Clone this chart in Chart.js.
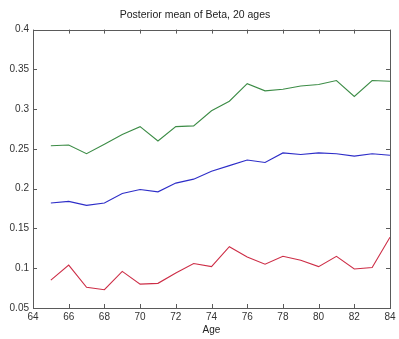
<!DOCTYPE html>
<html>
<head>
<meta charset="utf-8">
<script src="https://cdn.jsdelivr.net/npm/chart.js@4.4.1/dist/chart.umd.min.js"></script>
<style>
  html, body { margin: 0; padding: 0; background: #fff; }
  #wrap { width: 399px; height: 339px; }
</style>
</head>
<body>
<div id="wrap"><canvas id="myChart"></canvas></div>
<script>
const ctx = document.getElementById('myChart');

// ages 65..84
const ages = [65, 66, 67, 68, 69, 70, 71, 72, 73, 74, 75, 76, 77, 78, 79, 80, 81, 82, 83, 84];
const greenBeta = [0.254, 0.255, 0.244, 0.256, 0.268, 0.278, 0.260, 0.278, 0.279, 0.298,
                   0.310, 0.332, 0.323, 0.325, 0.329, 0.331, 0.336, 0.316, 0.336, 0.335];
const blueBeta = [0.182, 0.184, 0.179, 0.182, 0.194, 0.199, 0.196, 0.207, 0.212, 0.222,
                  0.229, 0.236, 0.233, 0.245, 0.243, 0.245, 0.244, 0.241, 0.244, 0.242];
const redBeta = [0.085, 0.104, 0.076, 0.073, 0.096, 0.080, 0.081, 0.094, 0.106, 0.102,
                 0.127, 0.114, 0.105, 0.115, 0.110, 0.102, 0.115, 0.099, 0.101, 0.139];
const xTicks = [64, 66, 68, 70, 72, 74, 76, 78, 80, 82, 84];
const yTicks = [0.05, 0.1, 0.15, 0.2, 0.25, 0.3, 0.35, 0.4];

const pts = (vals) => ages.map((a, i) => ({ x: a, y: vals[i] }));
const font = { family: 'Liberation Sans, Arial, sans-serif', size: 10 };
const axisColor = '#5a5a5a';

// matlab style box with inward ticks on all four sides
const boxTicks = {
  id: 'boxTicks',
  afterDraw(chart) {
    const c = chart.ctx;
    const a = chart.chartArea;
    const sx = chart.scales.x, sy = chart.scales.y;
    c.save();
    c.strokeStyle = axisColor;
    c.lineWidth = 1;
    c.beginPath();
    xTicks.forEach(v => {
      const px = Math.round(sx.getPixelForValue(v)) + 0.5;
      c.moveTo(px, a.bottom); c.lineTo(px, a.bottom - 4);
      c.moveTo(px, a.top); c.lineTo(px, a.top + 4);
    });
    yTicks.forEach(v => {
      const py = Math.round(sy.getPixelForValue(v)) + 0.5;
      c.moveTo(a.left, py); c.lineTo(a.left + 4, py);
      c.moveTo(a.right, py); c.lineTo(a.right - 4, py);
    });
    c.stroke();
    c.strokeRect(Math.round(a.left) + 0.5, Math.round(a.top) + 0.5,
                 Math.round(a.right - a.left), Math.round(a.bottom - a.top));
    c.restore();
  }
};

new Chart(ctx, {
  type: 'line',
  data: {
    datasets: [
      { data: pts(greenBeta), borderColor: 'rgb(60,140,70)' },
      { data: pts(blueBeta), borderColor: 'rgb(45,45,200)' },
      { data: pts(redBeta), borderColor: 'rgb(205,45,70)' }
    ].map(d => Object.assign(d, { borderWidth: 1.1, pointRadius: 0, tension: 0, fill: false }))
  },
  options: {
    responsive: true,
    maintainAspectRatio: false,
    animation: false,
    layout: { padding: { left: 0, right: 9, top: 0, bottom: 0 } },
    plugins: {
      legend: { display: false },
      tooltip: { enabled: false },
      title: {
        display: true,
        text: 'Posterior mean of Beta, 20 ages',
        color: '#222',
        font: { ...font, size: 10.5, weight: 'normal' },
        padding: { top: 9, bottom: 8 }
      }
    },
    scales: {
      x: {
        type: 'linear',
        min: 64, max: 84,
        afterBuildTicks: s => { s.ticks = xTicks.map(v => ({ value: v })); },
        afterFit: s => { s.height = 31; },
        grid: { display: false, drawTicks: false, tickLength: 0 },
        border: { display: false },
        ticks: { color: '#333', font, padding: 3, maxRotation: 0, autoSkip: false },
        title: { display: true, text: 'Age', color: '#222', font, padding: { top: 0, bottom: 3 } }
      },
      y: {
        min: 0.05, max: 0.4,
        afterBuildTicks: s => { s.ticks = yTicks.map(v => ({ value: v })); },
        afterFit: s => { s.width = 33; },
        grid: { display: false, drawTicks: false, tickLength: 0 },
        border: { display: false },
        ticks: {
          color: '#333', font, padding: 4,
          callback: v => String(Number(v.toFixed(2)))
        }
      }
    }
  },
  plugins: [boxTicks]
});
</script>
</body>
</html>
